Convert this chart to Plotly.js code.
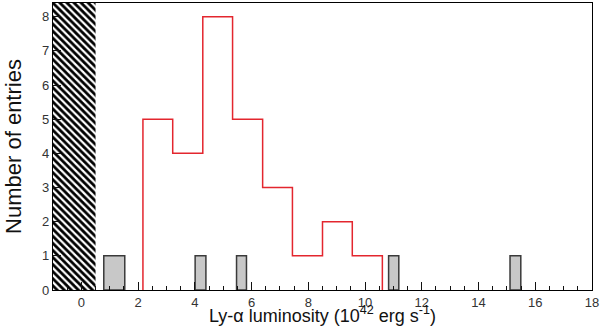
<!DOCTYPE html>
<html lang="en">
<head>
    <meta charset="UTF-8">
    <title>Ly-alpha luminosity</title>
    <script src="https://cdn.plot.ly/plotly-3.0.1.min.js"></script>
    <style>
        body { margin: 0; padding: 0; background: white; }
        #plot { width: 600px; height: 326px; }
    </style>
</head>
<body>
    <div id="plot"></div>
    <script>
        // red histogram: bin edges and counts
        const redEdges = [2.17, 3.22, 4.28, 5.33, 6.39, 7.44, 8.50, 9.55, 10.61];
        const redCounts = [5, 4, 8, 5, 3, 1, 2, 1];

        // gray histogram: filled bins (left edge, right edge, count)
        const grayLeft = [0.79, 4.01, 5.47, 10.83, 15.11];
        const grayRight = [1.53, 4.39, 5.82, 11.19, 15.49];
        const grayCounts = [1, 1, 1, 1, 1];

        // hatched (excluded) luminosity range
        const hatchRange = [-1, 0.5];

        const xRange = [-1, 18];
        const yRange = [0, 8.4];

        // step outline for the red histogram
        const stepX = [redEdges[0]].concat(redEdges);
        const stepY = [0].concat(redCounts, [0]);

        const hatch = {
            type: 'bar',
            x: [(hatchRange[0] + hatchRange[1]) / 2],
            y: [yRange[1]],
            width: [hatchRange[1] - hatchRange[0]],
            base: 0,
            marker: {
                color: 'white',
                line: {width: 0},
                pattern: {shape: '\\', fgcolor: 'black', bgcolor: 'white', size: 5, solidity: 0.55}
            },
            hoverinfo: 'skip'
        };

        const gray = {
            type: 'bar',
            x: grayLeft.map((l, i) => (l + grayRight[i]) / 2),
            y: grayCounts,
            width: grayLeft.map((l, i) => grayRight[i] - l),
            marker: {color: '#c8c8c8', line: {color: '#3a3a3a', width: 1.5}}
        };

        const red = {
            type: 'scatter',
            mode: 'lines',
            x: stepX,
            y: stepY,
            line: {shape: 'hv', color: '#e3262e', width: 1.5}
        };

        const layout = {
            width: 600,
            height: 326,
            margin: {l: 53, r: 8, t: 3, b: 36},
            showlegend: false,
            barmode: 'overlay',
            plot_bgcolor: 'white',
            paper_bgcolor: 'white',
            font: {family: 'Liberation Sans, Arial, sans-serif', color: '#222'},
            xaxis: {
                range: xRange,
                dtick: 2,
                tick0: 0,
                ticks: 'inside',
                ticklen: 8,
                tickcolor: '#111',
                tickfont: {size: 13, color: '#333'},
                ticklabelstandoff: 0,
                minor: {dtick: 0.5, ticks: 'inside', ticklen: 4, tickcolor: '#111'},
                showgrid: false,
                zeroline: false,
                showline: true,
                linecolor: 'black',
                linewidth: 1.2,
                mirror: true,
                title: {text: 'Ly-\u03b1 luminosity (10<sup>42</sup> erg s<sup>-1</sup>)', font: {size: 18, color: '#111'}, standoff: 2}
            },
            yaxis: {
                range: yRange,
                dtick: 1,
                ticks: 'inside',
                ticklen: 8,
                tickcolor: '#111',
                tickfont: {size: 13, color: '#333'},
                showgrid: false,
                zeroline: false,
                showline: true,
                linecolor: 'black',
                linewidth: 1.2,
                mirror: true,
                title: {text: 'Number of entries', font: {size: 22, color: '#111'}, standoff: 14}
            }
        };

        Plotly.newPlot('plot', [hatch, gray, red], layout, {displayModeBar: false, staticPlot: true});
    </script>
</body>
</html>
